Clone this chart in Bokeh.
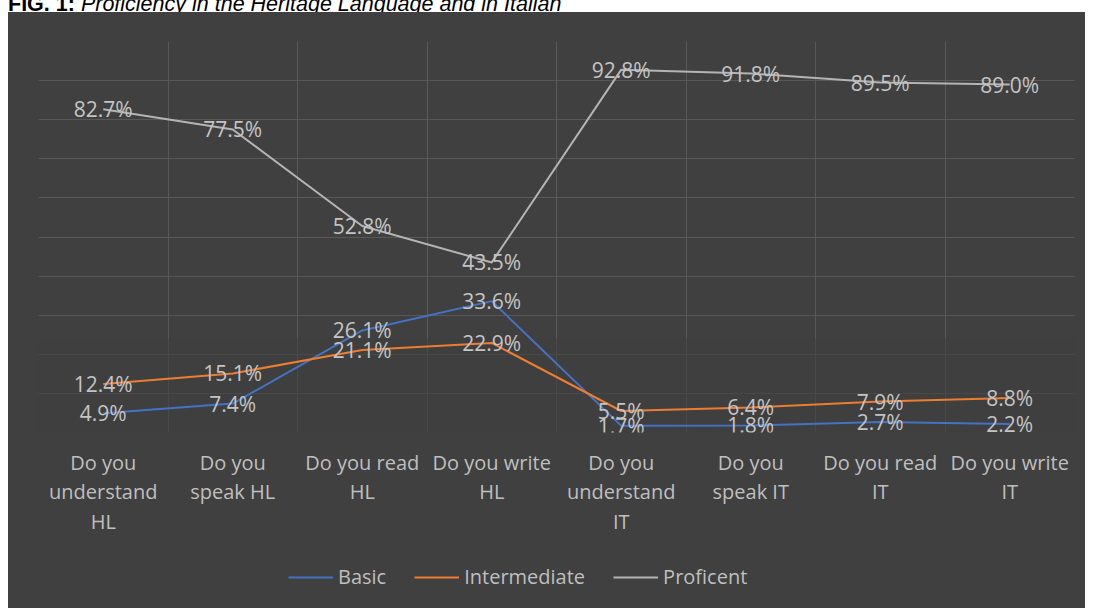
import numpy as np
from bokeh.plotting import figure
from bokeh.models import (ColumnDataSource, FixedTicker, Grid, Legend, LegendItem,
                          Div, BoxAnnotation)
from bokeh.layouts import column
from bokeh.core.properties import value
from bokeh.embed import file_html
from bokeh.resources import INLINE

categories = ["Do you understand HL", "Do you speak HL", "Do you read HL", "Do you write HL",
              "Do you understand IT", "Do you speak IT", "Do you read IT", "Do you write IT"]
tick_labels = ["Do you\nunderstand\nHL", "Do you\nspeak HL", "Do you read\nHL", "Do you write\nHL",
               "Do you\nunderstand\nIT", "Do you\nspeak IT", "Do you read\nIT", "Do you write\nIT"]
basic = [4.9, 7.4, 26.1, 33.6, 1.7, 1.8, 2.7, 2.2]
intermediate = [12.4, 15.1, 21.1, 22.9, 5.5, 6.4, 7.9, 8.8]
proficient = [82.7, 77.5, 52.8, 43.5, 92.8, 91.8, 89.5, 89.0]
series_names = ["Basic", "Intermediate", "Proficent"]
series_colors = ["#4472C4", "#ED7D31", "#B4B4B4"]

BG = "#404040"
FONT = "Open Sans"
W = 1077

xs = np.arange(len(categories)) + 0.5
series = [basic, intermediate, proficient]

# ---------------- main chart ----------------
p = figure(width=W, height=544, x_range=(0, len(categories)), y_range=(0, 100),
           output_backend="svg", toolbar_location=None, y_axis_location=None,
           min_border_left=30, min_border_right=11, min_border_top=29, min_border_bottom=124,
           margin=0)
p.background_fill_color = BG
p.border_fill_color = BG
p.outline_line_color = None

p.xgrid.visible = False
p.ygrid.visible = False
p.add_layout(Grid(dimension=0, ticker=FixedTicker(ticks=list(range(len(categories) + 1))),
                  grid_line_color="#585858", grid_line_width=1))
p.add_layout(Grid(dimension=1, ticker=FixedTicker(ticks=list(range(0, 101, 10))),
                  grid_line_color="#585858", grid_line_width=1))
p.add_layout(BoxAnnotation(bottom=0, top=24, fill_color=BG, fill_alpha=0.6,
                           line_color=None, level="underlay"))

ax = p.xaxis[0]
ax.ticker = FixedTicker(ticks=list(xs))
ax.major_label_overrides = {float(x): lab for x, lab in zip(xs, tick_labels)}
ax.axis_line_color = None
ax.major_tick_line_color = None
ax.minor_tick_line_color = None
ax.major_label_standoff = 10
ax.major_label_text_font = FONT
ax.major_label_text_font_size = "20px"
ax.major_label_text_color = "#BFBFBF"
ax.major_label_text_line_height = 1.1

for vals, col in zip(series, series_colors):
    p.line(xs, vals, line_color=col, line_width=2)

for vals in series:
    src = ColumnDataSource(dict(x=xs, y=vals, lab=[f"{v:.1f}%" for v in vals]))
    p.text("x", "y", text="lab", source=src, text_align="center", text_baseline="middle",
           text_font=value(FONT), text_font_size="21px", text_color="#C4C4C4")

# ---------------- legend strip ----------------
lg = figure(width=W, height=52, x_range=(0, len(categories)), y_range=(200, 201),
            output_backend="svg", toolbar_location=None, x_axis_location=None,
            y_axis_location=None, min_border=0, min_border_left=0, min_border_right=0,
            min_border_top=0, min_border_bottom=0, margin=0)
lg.background_fill_color = BG
lg.border_fill_color = BG
lg.outline_line_color = None
lg.grid.visible = False
items = []
for name, vals, col in zip(series_names, series, series_colors):
    r = lg.line(xs, vals, line_color=col, line_width=2)
    items.append(LegendItem(label=name, renderers=[r]))
legend = Legend(items=items, orientation="horizontal", location=(250, 18),
                background_fill_alpha=0, border_line_color=None, padding=0, margin=0,
                spacing=28, label_standoff=5, glyph_width=45, glyph_height=20,
                label_text_font=FONT, label_text_font_size="20px", label_text_color="#BFBFBF")
lg.add_layout(legend, "center")

# ---------------- title fragment ----------------
title = Div(text=('<div style="position:relative; top:-11px; white-space:nowrap; '
                  'font-family:\'Liberation Sans\', Arial, sans-serif; font-size:21.5px; color:#000;">'
                  '<b>FIG. 1:</b> <i>Proficiency in the Heritage Language and in Italian</i></div>'),
            width=W, height=12, margin=(0, 0, 0, 8), styles={"overflow": "visible"})

chart = column(p, lg, spacing=0, margin=(0, 0, 0, 8), styles={"background-color": BG})
layout = column(title, chart, spacing=0, margin=0)
open("out.html", "w").write(file_html(layout, INLINE))
